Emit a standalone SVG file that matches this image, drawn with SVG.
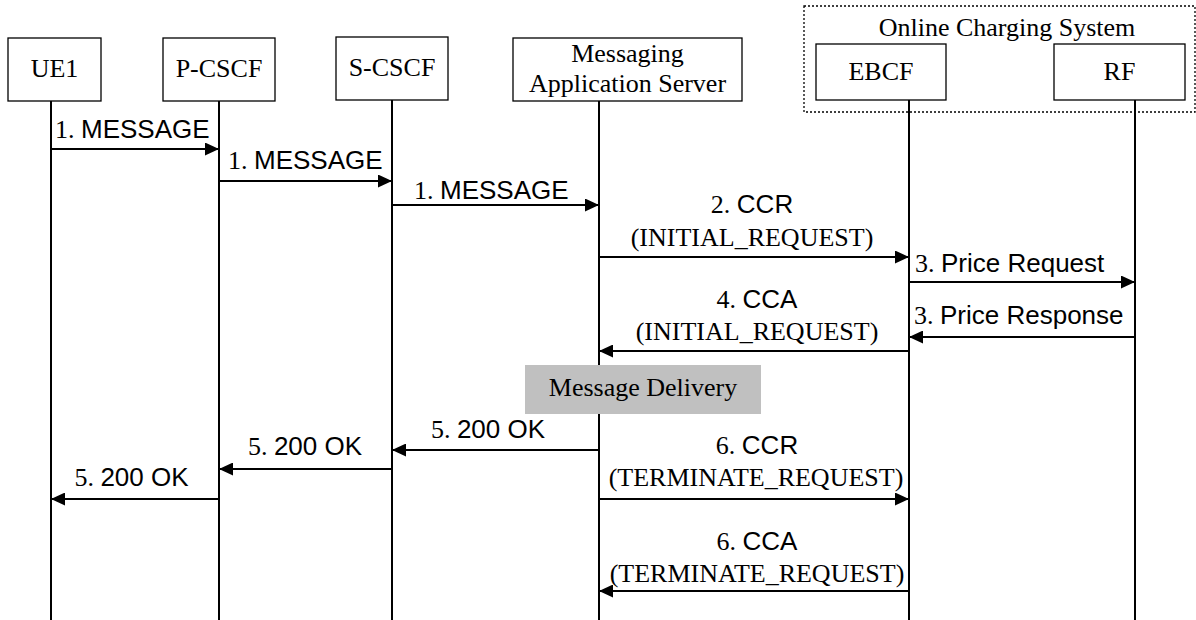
<svg xmlns="http://www.w3.org/2000/svg" width="1196" height="620" viewBox="0 0 1196 620">
  <style>
    .box { fill: #ffffff; stroke: #000000; stroke-width: 1.3; }
    .group { fill: none; stroke: #000000; stroke-width: 1.3; stroke-dasharray: 2 2; }
    .life { stroke: #000000; stroke-width: 2; fill: none; }
    .msg { stroke: #000000; stroke-width: 2; fill: none; marker-end: url(#head); }
    .shade { fill: #c0c0c0; stroke: none; }
    text { font-size: 26px; fill: #000000; }
    .serif { font-family: "Liberation Serif", "Times New Roman", serif; }
    .sans { font-family: "Liberation Sans", Arial, sans-serif; }
    .mid { text-anchor: middle; }
  </style>
  <defs>
    <marker id="head" markerUnits="userSpaceOnUse" markerWidth="14" markerHeight="13" refX="14" refY="6.5" orient="auto">
      <path d="M0,0 L14,6.5 L0,13 z" fill="#000000"/>
    </marker>
  </defs>

  <rect id="background" x="0" y="0" width="1196" height="620" fill="#ffffff"/>

  <!-- Online Charging System grouping frame -->
  <g id="ocs">
    <rect class="group" x="804" y="6" width="391" height="106"/>
    <text class="serif mid" x="1007" y="36">Online Charging System</text>
  </g>

  <!-- participants -->
  <g id="ue1">
    <rect class="box" x="8" y="38" width="93" height="63"/>
    <text class="serif mid" x="54.5" y="77">UE1</text>
  </g>
  <g id="pcscf">
    <rect class="box" x="163" y="38" width="112" height="63"/>
    <text class="serif mid" x="219" y="77">P-CSCF</text>
  </g>
  <g id="scscf">
    <rect class="box" x="336" y="37" width="112" height="63"/>
    <text class="serif mid" x="392" y="76">S-CSCF</text>
  </g>
  <g id="mas">
    <rect class="box" x="513" y="38" width="229" height="63"/>
    <text class="serif mid" x="627.5" y="62">Messaging</text>
    <text class="serif mid" x="627.5" y="92">Application Server</text>
  </g>
  <g id="ebcf">
    <rect class="box" x="816" y="44" width="130" height="56"/>
    <text class="serif mid" x="881" y="80">EBCF</text>
  </g>
  <g id="rf">
    <rect class="box" x="1054" y="44" width="131" height="56"/>
    <text class="serif mid" x="1119.5" y="80">RF</text>
  </g>

  <!-- lifelines -->
  <g id="lifelines">
    <line class="life" x1="51" y1="101" x2="51" y2="620"/>
    <line class="life" x1="219" y1="101" x2="219" y2="620"/>
    <line class="life" x1="392" y1="100" x2="392" y2="620"/>
    <line class="life" x1="599" y1="101" x2="599" y2="620"/>
    <line class="life" x1="909" y1="100" x2="909" y2="620"/>
    <line class="life" x1="1135" y1="100" x2="1135" y2="620"/>
  </g>

  <!-- Message Delivery activity -->
  <g id="delivery">
    <rect class="shade" x="525" y="365" width="236" height="49"/>
    <text class="serif mid" x="643" y="396">Message Delivery</text>
  </g>

  <!-- messages -->
  <g id="connectors">
    <line class="msg" x1="51" y1="149" x2="219" y2="149"/>
    <line class="msg" x1="219" y1="181" x2="392" y2="181"/>
    <line class="msg" x1="392" y1="205" x2="599" y2="205"/>
    <line class="msg" x1="599" y1="257" x2="909" y2="257"/>
    <line class="msg" x1="909" y1="282" x2="1135" y2="282"/>
    <line class="msg" x1="1135" y1="337" x2="909" y2="337"/>
    <line class="msg" x1="909" y1="351" x2="599" y2="351"/>
    <line class="msg" x1="599" y1="450" x2="392" y2="450"/>
    <line class="msg" x1="392" y1="469" x2="219" y2="469"/>
    <line class="msg" x1="219" y1="499" x2="51" y2="499"/>
    <line class="msg" x1="599" y1="499" x2="909" y2="499"/>
    <line class="msg" x1="909" y1="591" x2="599" y2="591"/>
  </g>

  <!-- message labels -->
  <g id="labels">
    <text x="55" y="138"><tspan class="serif">1. </tspan><tspan class="sans">MESSAGE</tspan></text>
    <text x="228" y="169"><tspan class="serif">1. </tspan><tspan class="sans">MESSAGE</tspan></text>
    <text x="414" y="199"><tspan class="serif">1. </tspan><tspan class="sans">MESSAGE</tspan></text>

    <text class="mid" x="752" y="213"><tspan class="serif">2. </tspan><tspan class="sans">CCR</tspan></text>
    <text class="serif mid" x="752" y="246">(INITIAL_REQUEST)</text>

    <text x="915" y="272"><tspan class="serif">3. </tspan><tspan class="sans">Price Request</tspan></text>
    <text x="914" y="324"><tspan class="serif">3. </tspan><tspan class="sans">Price Response</tspan></text>

    <text class="mid" x="757" y="308"><tspan class="serif">4. </tspan><tspan class="sans">CCA</tspan></text>
    <text class="serif mid" x="757" y="340">(INITIAL_REQUEST)</text>

    <text class="mid" x="488" y="438"><tspan class="serif">5. </tspan><tspan class="sans">200 OK</tspan></text>
    <text class="mid" x="305" y="455"><tspan class="serif">5. </tspan><tspan class="sans">200 OK</tspan></text>
    <text class="mid" x="131.5" y="486"><tspan class="serif">5. </tspan><tspan class="sans">200 OK</tspan></text>

    <text class="mid" x="757" y="454"><tspan class="serif">6. </tspan><tspan class="sans">CCR</tspan></text>
    <text class="serif mid" x="756" y="486">(TERMINATE_REQUEST)</text>

    <text class="mid" x="757" y="550"><tspan class="serif">6. </tspan><tspan class="sans">CCA</tspan></text>
    <text class="serif mid" x="757" y="582">(TERMINATE_REQUEST)</text>
  </g>
</svg>
